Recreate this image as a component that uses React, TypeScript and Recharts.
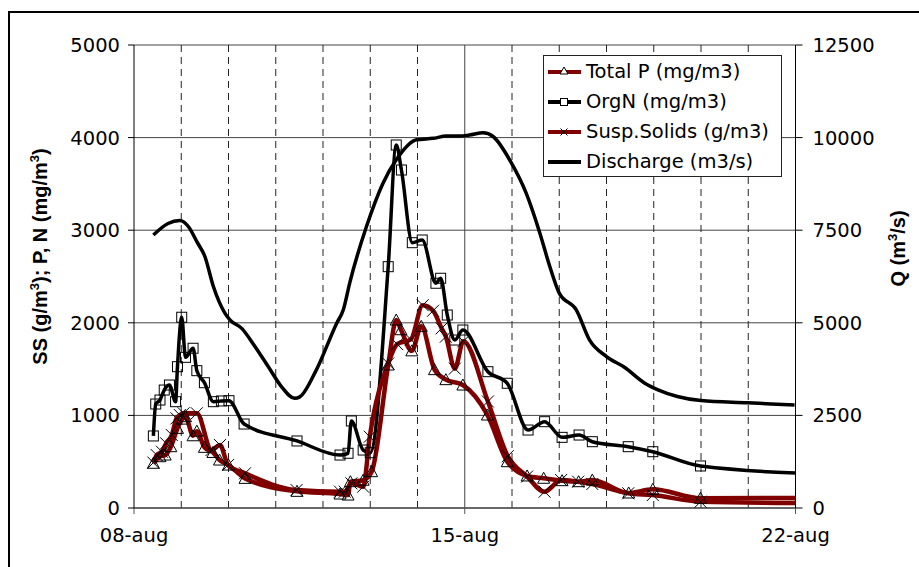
import { LineChart, Line, XAxis, YAxis, CartesianGrid, ReferenceLine, Legend } from 'recharts'

// time axis is in days counted from 08-aug 00:00
const dateTicks = [0, 7, 14]
const dateLabels = ['08-aug', '15-aug', '22-aug']
const dayLines = [1, 2, 3, 4, 5, 6, 8, 9, 10, 11, 12, 13]
const concTicks = [0, 1000, 2000, 3000, 4000, 5000]
const flowTicks = [0, 2500, 5000, 7500, 10000, 12500]

// Total P (mg/m3)
const tpDays = [0.41, 0.55, 0.66, 0.78, 0.92, 1.02, 1.09, 1.25, 1.33, 1.49, 1.67, 1.81, 2.0, 2.35, 3.45, 4.36, 4.53, 4.58, 4.85, 5.03, 5.38, 5.55, 5.65, 5.88, 6.08, 6.36, 6.6, 6.96, 7.48, 7.9, 8.32, 8.67, 9.06, 9.41, 9.7, 10.47, 10.98, 11.99, 15]
const tpValues = [483, 554, 572, 662, 860, 960, 986, 780, 830, 655, 600, 518, 464, 320, 180, 151, 140, 284, 300, 392, 1544, 2030, 1925, 1697, 1962, 1494, 1386, 1328, 1004, 500, 346, 321, 295, 284, 302, 162, 202, 105, 112]

// OrgN (mg/m3)
const orgDays = [0.41, 0.46, 0.55, 0.64, 0.75, 0.88, 0.92, 1.01, 1.09, 1.25, 1.33, 1.49, 1.68, 1.85, 2.01, 2.33, 3.45, 4.36, 4.53, 4.6, 4.85, 5.0, 5.38, 5.55, 5.66, 5.89, 6.1, 6.39, 6.49, 6.63, 6.79, 6.96, 7.49, 7.9, 8.34, 8.69, 9.06, 9.42, 9.7, 10.46, 10.98, 11.99, 15]
const orgValues = [778, 1123, 1166, 1274, 1328, 1148, 1526, 2060, 1627, 1725, 1483, 1353, 1148, 1156, 1159, 907, 724, 572, 591, 940, 626, 597, 2606, 3920, 3650, 2865, 2894, 2427, 2481, 2084, 1814, 1922, 1472, 1347, 842, 932, 763, 788, 716, 662, 608, 454, 360]

// Susp.Solids (g/m3)
const ssDays = [0.41, 0.48, 0.59, 0.68, 0.8, 0.9, 0.97, 1.05, 1.33, 1.64, 1.82, 1.99, 2.35, 3.44, 4.36, 4.46, 4.6, 4.85, 4.99, 5.38, 5.57, 5.86, 6.11, 6.33, 6.51, 6.6, 6.79, 6.97, 7.49, 7.91, 8.32, 8.69, 9.04, 9.4, 9.7, 10.46, 10.98, 11.99, 15]
const ssValues = [490, 572, 608, 699, 788, 968, 1004, 1023, 1023, 626, 680, 464, 375, 194, 176, 176, 266, 230, 770, 1560, 1770, 1820, 2190, 2130, 1940, 1850, 1505, 1800, 1150, 560, 340, 176, 302, 284, 259, 159, 140, 68, 50]

// Discharge (m3/s)
const qDays = [0.41, 0.72, 0.97, 1.15, 1.33, 1.5, 1.68, 1.92, 2.03, 2.28, 2.56, 2.84, 3.12, 3.4, 3.51, 3.86, 4.29, 4.43, 4.57, 4.92, 5.27, 5.55, 5.98, 6.33, 6.61, 6.89, 7.1, 7.39, 7.6, 7.95, 8.3, 8.59, 8.8, 9.0, 9.36, 9.64, 10.0, 10.38, 10.81, 11.09, 11.5, 12.0, 12.99, 13.98]
const qValues = [7370, 7680, 7760, 7600, 7190, 6790, 5980, 5270, 5080, 4850, 4360, 3820, 3280, 2960, 3000, 3730, 4990, 5350, 6100, 7600, 8770, 9400, 9940, 9980, 10040, 10040, 10070, 10130, 10030, 9400, 8500, 7420, 6520, 5800, 5350, 4540, 4090, 3800, 3370, 3190, 3010, 2900, 2840, 2780]

const toRows = (days: number[], values: number[]) => days.map((d, i) => ({ d, v: values[i] }))

const RED = '#800000'
const FONT = '"DejaVu Sans", sans-serif'
const TITLE_FONT = '"Liberation Sans", Arial, sans-serif'

// eslint-disable-next-line @typescript-eslint/no-explicit-any
function triangleDot(p: any) {
  if (p.cx == null || p.cy == null) return <g key={p.index} />
  const { cx, cy } = p
  return (
    <path
      key={p.index}
      d={`M${cx},${cy - 6}L${cx + 6},${cy + 5}L${cx - 6},${cy + 5}Z`}
      fill="none"
      stroke="#000"
      strokeWidth={1}
    />
  )
}

// eslint-disable-next-line @typescript-eslint/no-explicit-any
function squareDot(p: any) {
  if (p.cx == null || p.cy == null) return <g key={p.index} />
  return <rect key={p.index} x={p.cx - 5} y={p.cy - 5} width={10} height={10} fill="none" stroke="#000" strokeWidth={1} />
}

// eslint-disable-next-line @typescript-eslint/no-explicit-any
function crossDot(p: any) {
  if (p.cx == null || p.cy == null) return <g key={p.index} />
  const { cx, cy } = p
  return (
    <path
      key={p.index}
      d={`M${cx - 6},${cy - 6}L${cx + 6},${cy + 6}M${cx - 6},${cy + 6}L${cx + 6},${cy - 6}`}
      stroke="#000"
      strokeWidth={1}
    />
  )
}

const legendItems = [
  { label: 'Total P (mg/m3)', color: RED, marker: 'triangle' },
  { label: 'OrgN (mg/m3)', color: '#000', marker: 'square' },
  { label: 'Susp.Solids (g/m3)', color: RED, marker: 'cross' },
  { label: 'Discharge (m3/s)', color: '#000', marker: 'none' },
]

function LegendMarker({ kind }: { kind: string }) {
  if (kind === 'triangle') return <path d="M16,10L20,17L12,17Z" fill="#fff" stroke="#000" strokeWidth={1} />
  if (kind === 'square') return <rect x={12.5} y={11.5} width={7} height={7} fill="#fff" stroke="#000" strokeWidth={1} />
  if (kind === 'cross') return <path d="M12.5,11.5L19.5,18.5M12.5,18.5L19.5,11.5" stroke="#000" strokeWidth={1} />
  return null
}

function LegendBox() {
  return (
    <div
      style={{
        border: '1px solid #222',
        background: '#fff',
        width: 239,
        height: 122,
        boxSizing: 'border-box',
        paddingTop: 1,
        fontFamily: FONT,
        fontSize: 19.5,
        color: '#000',
      }}
    >
      {legendItems.map((item) => (
        <div key={item.label} style={{ display: 'flex', alignItems: 'center', height: 30 }}>
          <svg width={38} height={30} style={{ marginLeft: 4, flex: 'none' }}>
            <line x1={0} y1={15} x2={33} y2={15} stroke={item.color} strokeWidth={4} />
            <LegendMarker kind={item.marker} />
          </svg>
          <span style={{ whiteSpace: 'nowrap', lineHeight: '30px' }}>{item.label}</span>
        </div>
      ))}
    </div>
  )
}

// eslint-disable-next-line @typescript-eslint/no-explicit-any
function ConcTitle({ viewBox }: any) {
  const cx = (viewBox?.x ?? 0) + 23
  const cy = (viewBox?.y ?? 0) + (viewBox?.height ?? 0) / 2 - 20
  return (
    <text transform={`translate(${cx},${cy}) rotate(-90)`} textAnchor="middle" fontFamily={TITLE_FONT} fontWeight="bold" fontSize={20} fill="#000">
      SS (g/m<tspan dy={-8} fontSize={13}>3</tspan>
      <tspan dy={8}>); P, N (mg/m</tspan>
      <tspan dy={-8} fontSize={13}>3</tspan>
      <tspan dy={8}>)</tspan>
    </text>
  )
}

// eslint-disable-next-line @typescript-eslint/no-explicit-any
function FlowTitle({ viewBox }: any) {
  const cx = (viewBox?.x ?? 0) + 109
  const cy = (viewBox?.y ?? 0) + (viewBox?.height ?? 0) / 2 - 28
  return (
    <text transform={`translate(${cx},${cy}) rotate(-90)`} textAnchor="middle" fontFamily={TITLE_FONT} fontWeight="bold" fontSize={20} fill="#000">
      Q (m<tspan dy={-8} fontSize={13}>3</tspan>
      <tspan dy={8}>/s)</tspan>
    </text>
  )
}

const tickStyle = { fontSize: 19.5, fill: '#000', fontFamily: FONT }

export default function App() {
  return (
    <div style={{ position: 'fixed', left: 0, top: 0, width: 919, height: 567, overflow: 'hidden', background: '#fff' }}>
      <div
        style={{
          position: 'absolute',
          left: 8,
          top: 11,
          width: 1000,
          height: 700,
          border: '2px solid #000',
          boxSizing: 'border-box',
          background: '#fff',
        }}
      >
        <LineChart width={900} height={545} margin={{ top: 32, right: 14.5, bottom: 5, left: 14 }}>
          <CartesianGrid vertical={false} stroke="#444" />
          {dayLines.map((d) => (
            <ReferenceLine key={d} x={d} stroke="#222" strokeDasharray="7 5" />
          ))}
          <ReferenceLine x={7} stroke="#444" />
          <XAxis
            dataKey="d"
            type="number"
            domain={[0, 14]}
            allowDataOverflow
            ticks={dateTicks}
            tickFormatter={(v) => dateLabels[dateTicks.indexOf(v)]}
            tick={tickStyle}
            axisLine={{ stroke: '#555', strokeWidth: 1.5 }}
            tickLine={{ stroke: '#555' }}
            tickSize={6}
            tickMargin={14}
            height={45}
          />
          <YAxis
            domain={[0, 5000]}
            ticks={concTicks}
            tick={tickStyle}
            axisLine={{ stroke: '#000' }}
            tickLine={{ stroke: '#000' }}
            tickSize={6}
            tickMargin={8}
            width={110}
            label={<ConcTitle />}
          />
          <YAxis
            yAxisId="q"
            orientation="right"
            domain={[0, 12500]}
            ticks={flowTicks}
            tick={tickStyle}
            axisLine={{ stroke: '#000' }}
            tickLine={{ stroke: '#000' }}
            tickSize={7}
            tickMargin={10}
            width={100}
            label={<FlowTitle />}
          />
          <Line data={toRows(tpDays, tpValues)} dataKey="v" name="Total P (mg/m3)" type="monotone" stroke={RED} strokeWidth={4.5} dot={triangleDot} activeDot={false} isAnimationActive={false} />
          <Line data={toRows(orgDays, orgValues)} dataKey="v" name="OrgN (mg/m3)" type="monotone" stroke="#000" strokeWidth={3.5} dot={squareDot} activeDot={false} isAnimationActive={false} />
          <Line data={toRows(ssDays, ssValues)} dataKey="v" name="Susp.Solids (g/m3)" type="monotone" stroke={RED} strokeWidth={4.5} dot={crossDot} activeDot={false} isAnimationActive={false} />
          <Line data={toRows(qDays, qValues)} dataKey="v" yAxisId="q" name="Discharge (m3/s)" type="monotone" stroke="#000" strokeWidth={3.5} dot={false} activeDot={false} isAnimationActive={false} />
          <Legend
            content={<LegendBox />}
            layout="horizontal"
            verticalAlign="middle"
            align="center"
            wrapperStyle={{ left: 533, top: 42, width: 239 }}
          />
        </LineChart>
      </div>
    </div>
  )
}
